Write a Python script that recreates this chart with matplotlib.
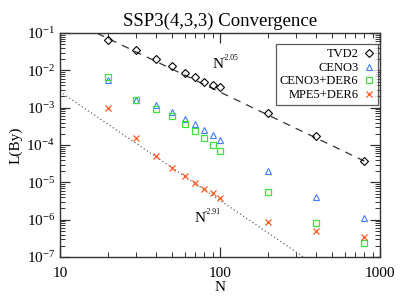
import matplotlib
matplotlib.use("Agg")
import matplotlib.pyplot as plt
import numpy as np
from matplotlib.ticker import LogLocator, NullFormatter

plt.rcParams['font.family'] = ['Liberation Serif', 'DejaVu Serif']
plt.rcParams['mathtext.fontset'] = 'stix'

N = [20, 30, 40, 50, 60, 70, 80, 90, 100, 200, 400, 800]
tvd2 = [0.065, 0.034, 0.020, 0.0127, 0.0087, 0.0066, 0.0050, 0.0041, 0.0035, 7.2e-4, 1.74e-4, 3.7e-5]
ceno3 = [0.0055, 1.6e-3, 1.15e-3, 7.5e-4, 5.1e-4, 3.6e-4, 2.45e-4, 1.8e-4, 1.38e-4, 2.0e-5, 4.1e-6, 1.1e-6]
ceno3_der6 = [0.0066, 1.65e-3, 9.3e-4, 5.9e-4, 3.7e-4, 2.35e-4, 1.5e-4, 1.0e-4, 7.1e-5, 5.6e-6, 8.3e-7, 2.35e-7]
mpe5_der6 = [9.8e-4, 1.55e-4, 5.0e-5, 2.45e-5, 1.48e-5, 9.8e-6, 6.8e-6, 5.1e-6, 3.7e-6, 8.9e-7, 5.1e-7, 3.4e-7]

fit1_amp, fit1_exp = 33.0, -2.05
fit2_amp, fit2_exp = 2.18, -2.91

fig = plt.figure(figsize=(4.16, 3.07), dpi=100)
ax = fig.add_axes([60/416, 1-257/307, 320/416, 224/307])

nf1 = np.logspace(1, np.log10(850), 200)
ax.plot(nf1, fit1_amp * nf1**fit1_exp, color='#333333', lw=0.9, ls=(0, (6, 5)))
nf2 = np.logspace(1, 3, 200)
ax.plot(nf2, fit2_amp * nf2**fit2_exp, color='#666666', lw=0.9, ls=(0, (1, 2)))

ax.plot(N, tvd2, ls='none', marker='D', ms=3.6, mfc='none', mec='black', mew=0.8, label='TVD2')
ax.plot(N, ceno3, ls='none', marker='^', ms=5.0, mfc='none', mec='#3f7fff', mew=0.8, label='CENO3')
ax.plot(N, ceno3_der6, ls='none', marker='s', ms=4.6, mfc='none', mec='#3ee03e', mew=0.9, label='CENO3+DER6')
ax.plot(N, mpe5_der6, ls='none', marker='x', ms=5.0, mec='#ff5a1f', mew=0.9, label='MPE5+DER6')

ax.set_xscale('log')
ax.set_yscale('log')
ax.set_xlim(10, 1000)
ax.set_ylim(1e-7, 1e-1)

ax.yaxis.set_major_locator(LogLocator(base=10, numticks=10))
ax.yaxis.set_minor_locator(LogLocator(base=10, subs=np.arange(2, 10), numticks=10))
ax.yaxis.set_minor_formatter(NullFormatter())
ax.xaxis.set_major_formatter(plt.FuncFormatter(lambda v, p: '%d' % v))
ax.xaxis.set_minor_formatter(NullFormatter())

ax.tick_params(which='both', direction='in', top=True, right=True, labelsize=11, color='#333333')
ax.tick_params(which='major', length=7, width=0.9)
ax.tick_params(which='minor', length=3.5, width=0.7)
ax.tick_params(axis='x', pad=7)
for s in ax.spines.values():
    s.set_linewidth(1.0)
    s.set_color('#333333')

ax.set_title('SSP3(4,3,3) Convergence', fontsize=13.5, pad=5)
ax.set_xlabel('N', fontsize=11, labelpad=1)
ax.set_ylabel('L(By)', fontsize=11, labelpad=3)

ax.annotate('N', xy=(213/416, 1-68/307), xycoords='figure fraction', fontsize=11, va='baseline')
ax.annotate('-2.05', xy=(223/416, 1-60/307), xycoords='figure fraction', fontsize=5.5, va='baseline')
ax.annotate('N', xy=(195/416, 1-222/307), xycoords='figure fraction', fontsize=11, va='baseline')
ax.annotate('-2.91', xy=(205/416, 1-214/307), xycoords='figure fraction', fontsize=5.5, va='baseline')

leg = ax.legend(loc='upper right', bbox_to_anchor=(378/416, 1-44/307), bbox_transform=fig.transFigure,
                markerfirst=False, fontsize=9, frameon=True, fancybox=False,
                edgecolor='#333333', handlelength=0.8, handletextpad=0.4, borderpad=0.35,
                labelspacing=0.12, borderaxespad=0)
leg.get_frame().set_linewidth(0.9)

fig.savefig('out.png', dpi=100)
